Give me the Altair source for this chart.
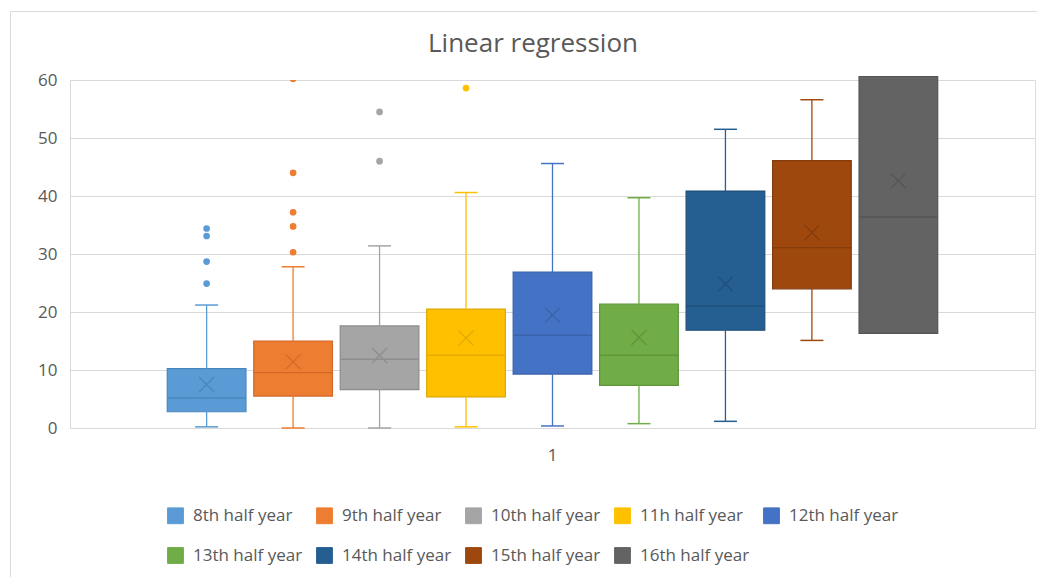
import altair as alt
import pandas as pd
import numpy as np

title_text = "Linear regression"
series = ["8th half year", "9th half year", "10th half year", "11h half year",
          "12th half year", "13th half year", "14th half year", "15th half year",
          "16th half year"]
colors = ["#5B9BD5", "#ED7D31", "#A5A5A5", "#FFC000", "#4472C4",
          "#70AD47", "#255E91", "#9E480E", "#636363"]
dark = ["#4A86BE", "#D0692A", "#8C8C8C", "#E0A800", "#3A62A8",
        "#5F953B", "#1F4F7A", "#843C0C", "#545454"]

q1 = [2.8, 5.5, 6.6, 5.35, 9.3, 7.35, 16.85, 24.0, 16.3]
median = [5.2, 9.55, 11.85, 12.55, 16.0, 12.55, 21.0, 31.1, 36.35]
q3 = [10.25, 15.0, 17.6, 20.5, 26.9, 21.35, 40.85, 46.1, 60.6]
whisker_lo = [0.2, 0.0, 0.0, 0.2, 0.35, 0.75, 1.15, 15.1, np.nan]
whisker_hi = [21.2, 27.8, 31.4, 40.6, 45.6, 39.7, 51.5, 56.6, np.nan]
mean = [7.5, 11.4, 12.5, 15.5, 19.45, 15.6, 24.8, 33.7, 42.6]
outlier_series = ["8th half year"] * 4 + ["9th half year"] * 5 + ["10th half year"] * 2 + ["11h half year"]
outlier_values = [34.4, 33.1, 28.7, 24.9, 60.2, 44.0, 37.2, 34.75, 30.3, 54.5, 46.0, 58.6]
category = "1"

stats = pd.DataFrame({
    "grp": category, "series": series, "q1": q1, "median": median, "q3": q3,
    "lo": whisker_lo, "hi": whisker_hi, "mean": mean,
})
outl = pd.DataFrame({"grp": category, "series": outlier_series, "v": outlier_values})
tdf = pd.DataFrame({"t": [title_text]})

FONT = "Open Sans"
TXT = "#595959"
GRID = "#D9D9D9"

x = alt.X("grp:N", title=None,
          scale=alt.Scale(paddingOuter=0.12, paddingInner=0),
          axis=alt.Axis(labelAngle=0, ticks=False, domainColor=GRID,
                        labelPadding=19, labelFontSize=17, labelColor=TXT,
                        labelFont=FONT, grid=False))
xo = alt.XOffset("series:N", sort=series,
                 scale=alt.Scale(domain=series, paddingInner=0.09, paddingOuter=0.045))
yscale = alt.Scale(domain=[0, 60], nice=False, zero=True)
yaxis = alt.Axis(values=[0, 10, 20, 30, 40, 50, 60], title=None, domain=True,
                 domainColor=GRID, ticks=False, gridColor=GRID, labelColor=TXT,
                 labelFontSize=17, labelFont=FONT, labelPadding=13)

color = alt.Color("series:N", sort=series,
                  scale=alt.Scale(domain=series, range=colors),
                  legend=alt.Legend(title=None, orient="none", legendX=97, legendY=427,
                                    direction="horizontal", columns=5, gridAlign="all",
                                    columnPadding=11, rowPadding=19,
                                    symbolType="square", symbolSize=250,
                                    symbolOpacity=1, symbolStrokeWidth=1,
                                    labelOffset=9,
                                    labelFont=FONT, labelFontSize=17, labelColor=TXT,
                                    labelLimit=300))
stroke = alt.Stroke("series:N", sort=series,
                    scale=alt.Scale(domain=series, range=dark), legend=None)
cnoleg = alt.Color("series:N", sort=series,
                   scale=alt.Scale(domain=series, range=colors))

base = alt.Chart(stats)

frame = alt.Chart(tdf).mark_rect(fill=None, stroke=GRID, strokeWidth=1).encode(
    x=alt.value(-59.5), x2=alt.value(1000), y=alt.value(-68.5), y2=alt.value(520))

title = alt.Chart(tdf).mark_text(font=FONT, fontSize=26, color=TXT, align="center",
                                 baseline="alphabetic").encode(
    text="t:N", x=alt.value(463), y=alt.value(-28.3))

box = base.mark_bar(strokeWidth=1.2, opacity=1).encode(
    x=x, xOffset=xo,
    y=alt.Y("q1:Q", scale=yscale, axis=yaxis), y2="q3:Q",
    color=color, stroke=stroke)

wlo = base.mark_rule(strokeWidth=1.3, opacity=1).encode(
    x=x, xOffset=xo, y=alt.Y("lo:Q", scale=yscale), y2="q1:Q", color=cnoleg)
whi = base.mark_rule(strokeWidth=1.3, opacity=1).encode(
    x=x, xOffset=xo, y=alt.Y("q3:Q", scale=yscale), y2="hi:Q", color=cnoleg)
cap_lo = base.mark_tick(size=23, thickness=1.5, opacity=1).encode(
    x=x, xOffset=xo, y=alt.Y("lo:Q", scale=yscale), color=cnoleg)
cap_hi = base.mark_tick(size=23, thickness=1.5, opacity=1).encode(
    x=x, xOffset=xo, y=alt.Y("hi:Q", scale=yscale), color=cnoleg)

med = base.mark_bar(fillOpacity=0, strokeWidth=0.9).encode(
    x=x, xOffset=xo, y=alt.Y("median:Q", scale=yscale), y2="median:Q",
    stroke=stroke)

mn = base.mark_point(shape="M-1,-1L1,1M-1,1L1,-1", size=225, filled=False,
                     strokeWidth=1.2, opacity=1).encode(
    x=x, xOffset=xo, y=alt.Y("mean:Q", scale=yscale), stroke=stroke)

pts = alt.Chart(outl).mark_circle(size=45, opacity=1, clip=True).encode(
    x=x, xOffset=xo, y=alt.Y("v:Q", scale=yscale), color=cnoleg)

chart = alt.layer(box, frame, title, wlo, whi, cap_lo, cap_hi, med, mn, pts).properties(
    width=965, height=348,
    autosize=alt.AutoSizeParams(type="none"),
    padding={"left": 62, "top": 72, "right": 2, "bottom": 149},
).configure_view(stroke=None).configure(background="white")

chart.save("out.html", embed_options={"renderer": "svg", "actions": False})
